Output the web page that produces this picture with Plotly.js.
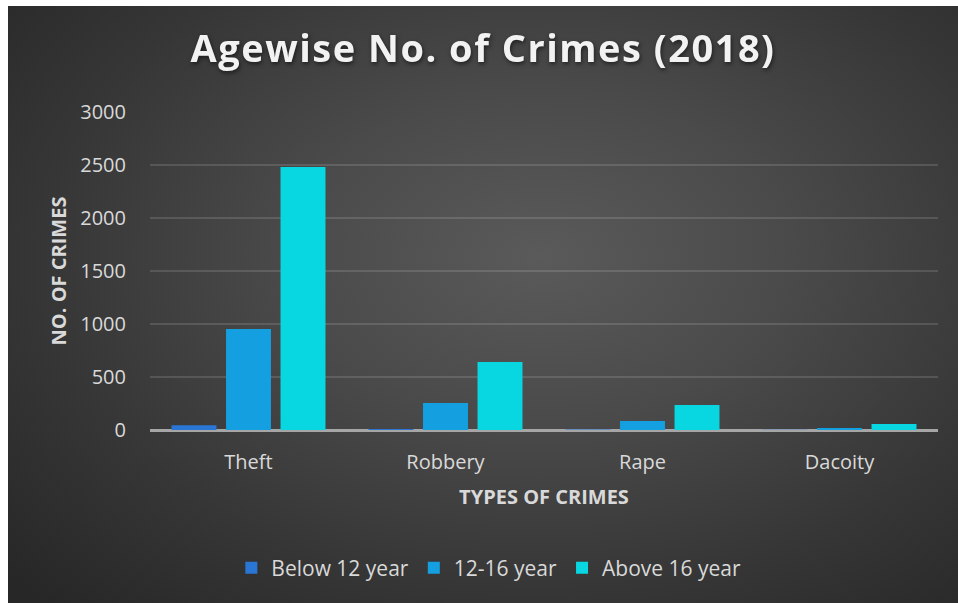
<!DOCTYPE html>
<html>
<head>
<meta charset="utf-8">
<script src="https://cdn.plot.ly/plotly-3.0.1.min.js"></script>
<style>
  html, body { margin:0; padding:0; background:#ffffff; width:958px; height:603px; overflow:hidden; }
  #chart {
    position:absolute; left:8px; top:6px; width:950px; height:597px;
    background: radial-gradient(ellipse 75% 80% at 56% 42%, #5a5a5a 0%, #4a4a4a 35%, #363636 70%, #272727 100%);
  }
  #chart .gtitle { letter-spacing: 1.5px; filter: drop-shadow(1px 2px 2px rgba(0,0,0,0.55)); }
</style>
</head>
<body>
<div id="chart"></div>
<script>
const categories = ["Theft", "Robbery", "Rape", "Dacoity"];
const seriesNames = ["Below 12 year", "12-16 year", "Above 16 year"];
const below12 = [45, 10, 5, 2];
const age12to16 = [953, 255, 85, 20];
const above16 = [2481, 641, 236, 57];
const yTicks = [0, 500, 1000, 1500, 2000, 2500, 3000];

const colors = ["#2a76d4", "#149fe0", "#08d6e0"];
const values = [below12, age12to16, above16];

const traces = values.map((v, i) => ({
  type: "bar",
  name: seriesNames[i],
  x: categories,
  y: v,
  marker: { color: colors[i], line: { width: 0 } },
  hoverinfo: "x+y+name"
}));

const textColor = "#d9d9d9";
const layout = {
  width: 950, height: 597,
  paper_bgcolor: "rgba(0,0,0,0)",
  plot_bgcolor: "rgba(0,0,0,0)",
  margin: { l: 142, r: 20, t: 106, b: 173 },
  barmode: "group",
  bargap: 0.17,
  bargroupgap: 0.175,
  font: { family: "Open Sans, sans-serif", color: textColor },
  title: {
    text: "Agewise No. of Crimes (2018)",
    font: { family: "Open Sans, sans-serif", size: 38, color: "#f2f2f2", weight: 700 },
    x: 0.5, xanchor: "center", y: 1 - 43/597, yanchor: "middle"
  },
  xaxis: {
    showgrid: false, showline: false, zeroline: false,
    tickfont: { size: 20, color: textColor },
    tickangle: 0,
    ticks: "", ticklen: 0, ticklabelstandoff: 18,
    title: { text: "TYPES OF CRIMES", font: { size: 20, color: textColor, weight: 700 }, standoff: 15 },
    automargin: false
  },
  yaxis: {
    range: [0, 3000],
    tickvals: yTicks,
    ticktext: yTicks.map(String),
    showgrid: true, gridcolor: "rgba(255,255,255,0.13)", gridwidth: 2,
    zeroline: true, zerolinecolor: "#a6a6a6", zerolinewidth: 3,
    showline: false,
    tickfont: { size: 20, color: textColor },
    ticks: "", ticklabelstandoff: 23,
    title: { text: "NO. OF CRIMES", font: { size: 20, color: textColor, weight: 700 }, standoff: 8 },
    automargin: false
  },
  legend: {
    orientation: "h",
    x: 0.43, xanchor: "center",
    y: -0.434, yanchor: "middle",
    font: { size: 21, color: textColor },
    bgcolor: "rgba(0,0,0,0)",
    traceorder: "normal",
    itemwidth: 30
  },
  showlegend: true
};

Plotly.newPlot("chart", traces, layout, { displayModeBar: false, staticPlot: true });
</script>
</body>
</html>
